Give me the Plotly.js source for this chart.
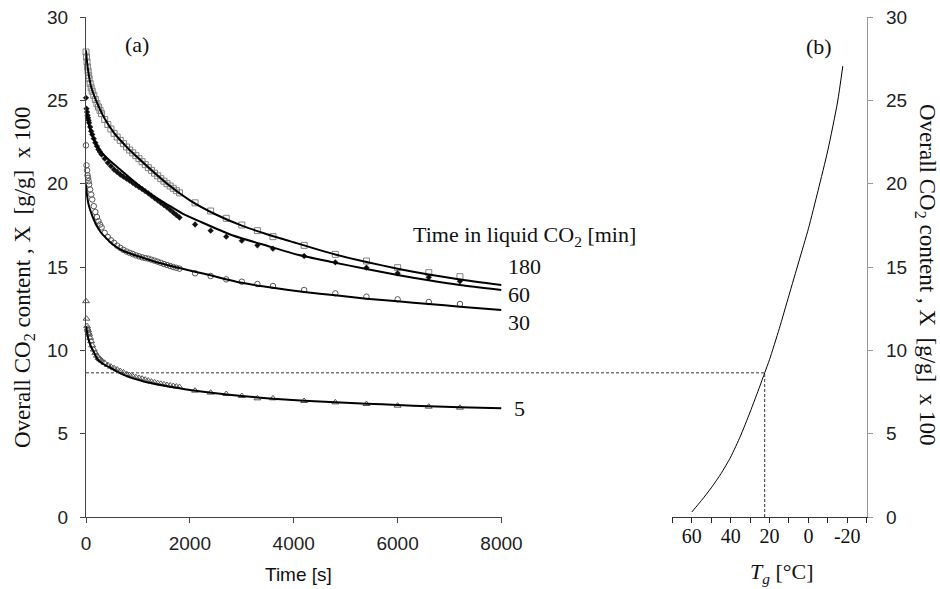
<!DOCTYPE html>
<html>
<head>
<meta charset="utf-8">
<script src="https://cdn.plot.ly/plotly-3.0.1.min.js"></script>
<style>html,body{margin:0;padding:0;background:#fff;}#chart{width:940px;height:589px;}</style>
</head>
<body>
<div id="chart"></div>
<script>
// ---- data: time [s] of measurements ----
const denseT = [0,10,20,30,40,50,60,80,100,120,150,180,210,240,270,300,360,420,480,540,600,660,720,780,840,900,960,1020,1080,1140,1200,1260,1320,1380,1440,1500,1560,1620,1680,1740,1800];
const sparseT = [2100,2400,2700,3000,3300,3600,4200,4800,5400,6000,6600,7200];

// measured CO2 content X x100 [g/g]
const m180dense = [27.9,27.6,27.3,27.0,26.75,26.5,26.3,26.0,25.75,25.55,25.3,25.05,24.8,24.6,24.4,24.2,23.85,23.55,23.28,23.02,22.8,22.6,22.4,22.2,22.02,21.85,21.68,21.5,21.32,21.14,20.96,20.8,20.63,20.47,20.3,20.15,20.0,19.86,19.72,19.58,19.45];
const m180sparse = [18.85,18.36,17.92,17.52,17.18,16.82,16.3,15.76,15.36,14.96,14.66,14.42];
const m60dense = [25.15,24.5,24.3,24.1,23.95,23.8,23.65,23.4,23.15,22.95,22.7,22.45,22.25,22.05,21.9,21.75,21.5,21.25,21.05,20.85,20.7,20.55,20.42,20.3,20.18,20.05,19.92,19.8,19.68,19.55,19.42,19.28,19.14,19.0,18.86,18.72,18.58,18.43,18.27,18.12,17.97];
const m60sparse = [17.55,17.18,16.82,16.58,16.3,16.1,15.66,15.28,14.96,14.62,14.38,14.14];
const m30dense = [22.3,21.1,20.8,20.5,20.35,20.15,19.95,19.65,19.35,19.05,18.65,18.3,18.0,17.75,17.55,17.38,17.05,16.8,16.6,16.45,16.28,16.15,16.03,15.93,15.85,15.78,15.7,15.64,15.58,15.54,15.5,15.44,15.38,15.32,15.25,15.18,15.12,15.06,15.0,14.95,14.9];
const m30sparse = [14.62,14.46,14.26,14.12,13.98,13.86,13.62,13.42,13.22,13.06,12.9,12.78];
const m5dense = [12.95,11.9,11.45,11.3,11.2,11.05,10.95,10.75,10.55,10.3,10.05,9.85,9.68,9.55,9.47,9.4,9.25,9.12,9.02,8.93,8.85,8.76,8.67,8.58,8.5,8.44,8.39,8.34,8.3,8.24,8.18,8.12,8.08,8.03,7.99,7.96,7.92,7.89,7.86,7.83,7.8];
const m5sparse = [7.58,7.46,7.38,7.26,7.12,7.12,6.96,6.88,6.78,6.68,6.62,6.56];

// model curves
const fitT180 = [0,20,50,100,200,350,550,800,1000,1300,1600,2000,2500,3000,3500,4000,4800,5400,6000,6600,7200,8000];
const fit180  = [28.0,27.3,26.6,25.8,24.95,23.95,23.0,22.15,21.55,20.7,19.9,19.0,18.15,17.48,16.95,16.48,15.75,15.3,14.9,14.55,14.25,13.92];
const fitT60 = [0,30,80,150,270,450,600,900,1200,1550,1850,2200,2800,3500,4100,4700,5400,6000,6600,7200,8000];
const fit60  = [24.4,23.9,23.25,22.65,22.0,21.4,21.0,20.2,19.45,18.78,18.22,17.72,16.92,16.26,15.72,15.32,14.88,14.52,14.2,13.92,13.62];
const fitT30 = [0,20,50,100,150,200,280,360,500,680,900,1130,1400,1770,2100,2400,3000,3600,4200,4800,5400,6000,6600,7200,8000];
const fit30  = [19.95,19.3,18.75,18.25,17.85,17.5,17.1,16.82,16.4,16.02,15.75,15.52,15.25,14.95,14.72,14.5,14.05,13.75,13.5,13.3,13.1,12.94,12.78,12.62,12.42];
const fitT5 = [0,20,40,70,100,150,230,350,490,650,810,1130,1450,1800,2000,2500,3000,3600,4200,4800,5400,6000,6600,7200,8000];
const fit5  = [11.45,11.1,10.75,10.45,10.2,9.9,9.42,9.15,8.92,8.65,8.42,8.12,7.92,7.72,7.62,7.42,7.26,7.1,6.98,6.88,6.8,6.72,6.64,6.58,6.52];

// panel (b): glass transition temperature vs CO2 content
const Tg = [60,55,50,45,40,35,30,25,22.5,20,15,10,5,0,-5,-10,-15,-17.7];
const Xg = [0.3,1.0,1.75,2.6,3.6,4.85,6.3,7.85,8.65,9.45,11.3,13.3,15.3,17.3,19.6,22.0,24.9,27.05];

// read-off example
const readX = 8.65;
const readT = 22.5;

// tick labels
const tTicks = [0,2000,4000,6000,8000];
const xTicks = [0,5,10,15,20,25,30];
const tgMajor = [60,40,20,0,-20];
const tgMajorText = ['60','40','20','0','-20'];
const tgMinor = [70,50,30,10,-10,-30];
const groupLabels = ['180','60','30','5'];

// ---- layout geometry ----
const W = 940, H = 589;
const xDom = [86/W, 501.5/W];
const x2Dom = [672.4/W, 866.7/W];
const yDom = [1-517/H, 1-17/H];
const x2Range = [70,-30];

const allT = denseT.concat(sparseT);
const serif = 'Liberation Serif';
const sans = 'Liberation Sans';

function markerTrace(y, symbol, color, size, lw){
  return {x: allT, y: y, type:'scatter', mode:'markers', xaxis:'x', yaxis:'y', cliponaxis:false,
    marker:{symbol:symbol, size:size, color:color, line:{color:color, width:lw}}, hoverinfo:'x+y'};
}
function fitTrace(t, y){
  return {x: t, y: y, type:'scatter', mode:'lines', xaxis:'x', yaxis:'y', cliponaxis:false,
    line:{color:'#000', width:2, shape:'spline', smoothing:0.6}};
}

const traces = [
  markerTrace(m180dense.concat(m180sparse), 'square-open', '#808080', 6, 1),
  markerTrace(m60dense.concat(m60sparse), 'diamond', '#111', 4.5, 0.3),
  markerTrace(m30dense.concat(m30sparse), 'circle-open', '#555', 5.5, 1),
  markerTrace(m5dense.concat(m5sparse), 'triangle-up-open', '#555', 6, 1),
  fitTrace(fitT180, fit180),
  fitTrace(fitT60, fit60),
  fitTrace(fitT30, fit30),
  fitTrace(fitT5, fit5),
  {x: Tg, y: Xg, type:'scatter', mode:'lines', xaxis:'x2', yaxis:'y2',
   line:{color:'#000', width:1, shape:'spline', smoothing:0.6}}
];

const readPaperX = x2Dom[0] + (x2Range[0]-readT)/(x2Range[0]-x2Range[1])*(x2Dom[1]-x2Dom[0]);

const layout = {
  width: W, height: H,
  margin:{l:0,r:0,t:0,b:0},
  paper_bgcolor:'#fff', plot_bgcolor:'rgba(0,0,0,0)',
  showlegend:false,
  xaxis:{domain:xDom, range:[0,8000], anchor:'y', tickvals:tTicks, ticks:'outside', ticklen:5, tickcolor:'#444',
    showline:true, linecolor:'#444', linewidth:1, showgrid:false, zeroline:false,
    tickfont:{family:sans, size:19, color:'#222'}, ticklabelstandoff:4},
  yaxis:{domain:yDom, range:[0,30], anchor:'x', tickvals:xTicks, ticks:'outside', ticklen:5, tickcolor:'#444',
    showline:true, linecolor:'#444', linewidth:1, showgrid:false, zeroline:false,
    tickfont:{family:sans, size:19, color:'#222'}, ticklabelstandoff:8},
  xaxis2:{domain:x2Dom, range:x2Range, anchor:'y2', tickvals:tgMajor, ticktext:tgMajorText, ticks:'outside', ticklen:5, tickcolor:'#222',
    showline:true, linecolor:'#333', linewidth:1, showgrid:false, zeroline:false,
    minor:{tickvals:tgMinor, ticks:'outside', ticklen:5, tickcolor:'#222', showgrid:false},
    tickfont:{family:serif, size:20, color:'#111'}, ticklabelstandoff:-4},
  yaxis2:{domain:yDom, range:[0,30], anchor:'x2', side:'right', tickvals:xTicks, ticks:'outside', ticklen:5, tickcolor:'#999',
    showline:true, linecolor:'#999', linewidth:1.5, showgrid:false, zeroline:false,
    tickfont:{family:sans, size:19, color:'#222'}, ticklabelstandoff:9},
  shapes:[
    {type:'line', xref:'paper', yref:'y', x0:xDom[0], x1:readPaperX, y0:readX, y1:readX,
     line:{color:'#333', width:1, dash:'3px,2px'}},
    {type:'line', xref:'x2', yref:'y2', x0:readT, x1:readT, y0:0, y1:readX,
     line:{color:'#333', width:1, dash:'3px,2px'}}
  ],
  annotations:[
    {xref:'paper', yref:'paper', x:24/W, y:1-278/H, text:'Overall CO<sub>2</sub> content , X  [g/g]  x 100', textangle:-90,
     showarrow:false, font:{family:serif, size:23, color:'#111'}, xanchor:'center', yanchor:'middle'},
    {xref:'paper', yref:'paper', x:926/W, y:1-274/H, text:'Overall CO<sub>2</sub> content , X  [g/g]  x 100', textangle:90,
     showarrow:false, font:{family:serif, size:23, color:'#111'}, xanchor:'center', yanchor:'middle'},
    {xref:'paper', yref:'paper', x:298/W, y:1-574/H, text:'Time [s]', showarrow:false,
     font:{family:sans, size:19, color:'#111'}, xanchor:'center', yanchor:'middle'},
    {xref:'paper', yref:'paper', x:782/W, y:1-573/H, text:'<i>T<sub>g</sub></i> [°C]', showarrow:false,
     font:{family:serif, size:22, color:'#111'}, xanchor:'center', yanchor:'middle'},
    {xref:'paper', yref:'paper', x:137/W, y:1-45/H, text:'(a)', showarrow:false,
     font:{family:serif, size:22, color:'#111'}, xanchor:'center', yanchor:'middle'},
    {xref:'paper', yref:'paper', x:819/W, y:1-47/H, text:'(b)', showarrow:false,
     font:{family:serif, size:22, color:'#111'}, xanchor:'center', yanchor:'middle'},
    {xref:'paper', yref:'paper', x:411/W, y:1-236/H, text:'Time in liquid CO<sub>2</sub> [min]', showarrow:false,
     font:{family:serif, size:22, color:'#111'}, xanchor:'left', yanchor:'middle'},
    {xref:'paper', yref:'paper', x:506/W, y:1-266/H, text:groupLabels[0], showarrow:false,
     font:{family:serif, size:22, color:'#111'}, xanchor:'left', yanchor:'middle'},
    {xref:'paper', yref:'paper', x:506/W, y:1-294/H, text:groupLabels[1], showarrow:false,
     font:{family:serif, size:22, color:'#111'}, xanchor:'left', yanchor:'middle'},
    {xref:'paper', yref:'paper', x:506/W, y:1-322/H, text:groupLabels[2], showarrow:false,
     font:{family:serif, size:22, color:'#111'}, xanchor:'left', yanchor:'middle'},
    {xref:'paper', yref:'paper', x:512/W, y:1-408/H, text:groupLabels[3], showarrow:false,
     font:{family:serif, size:22, color:'#111'}, xanchor:'left', yanchor:'middle'}
  ]
};

Plotly.newPlot('chart', traces, layout, {displayModeBar:false, staticPlot:true});
</script>
</body>
</html>
